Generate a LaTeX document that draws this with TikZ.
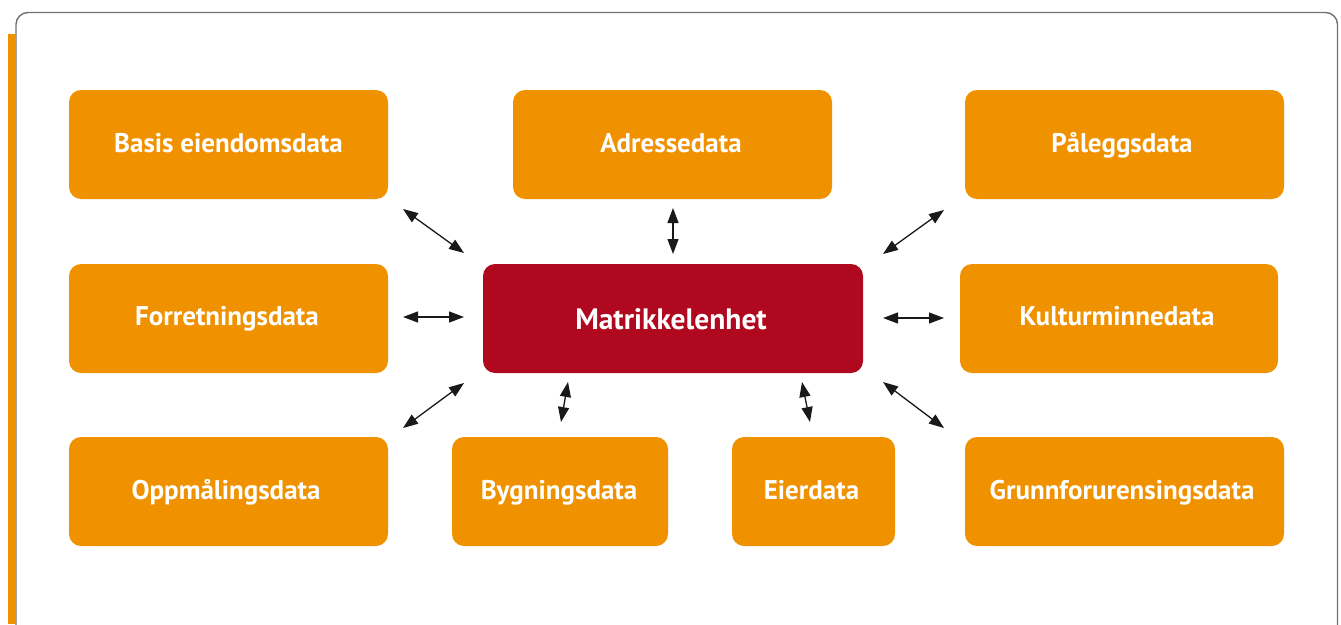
\documentclass[tikz,border=0pt]{standalone}
\usepackage{fontspec}
\setmainfont{PT Sans}
\usetikzlibrary{arrows.meta}
\definecolor{orng}{HTML}{F09100}
\definecolor{dred}{HTML}{B0081E}
\definecolor{frm}{HTML}{707070}
\begin{document}
\begin{tikzpicture}[x=1pt,y=-1pt,
  databox/.style={fill=orng,draw=none,rounded corners=12pt},
  mainbox/.style={fill=dred,draw=none,rounded corners=12pt},
  lbl/.style={anchor=base,text=white,font=\fontsize{27}{30}\selectfont\bfseries},
  mainlbl/.style={anchor=base,text=white,font=\fontsize{29.5}{32}\selectfont\bfseries},
  link/.style={line width=1.3pt,draw=black!90,{Triangle[length=15pt,width=11pt]}-{Triangle[length=15pt,width=11pt]}}]
\useasboundingbox (0,0) rectangle (1341,624);
\begin{scope}
\clip (0,0) rectangle (1341,624);
\draw[frm,line width=1.4pt,rounded corners=12pt] (16,680) -- (16,12.5) -- (1337.5,12.5) -- (1337.5,680);
\fill[orng] (8,34) rectangle (16,624);
\end{scope}
% boxes
\path[databox] (69,90) rectangle (388,199);
\node[lbl] (basis) at (228.5,152) {Basis eiendomsdata};
\path[databox] (513,90) rectangle (832,199);
\node[lbl] (adr) at (671,152) {Adressedata};
\path[databox] (965,90) rectangle (1284,199);
\node[lbl] (pal) at (1122,152) {Påleggsdata};
\path[databox] (69,264) rectangle (388,373);
\node[lbl] (forr) at (227,325) {Forretningsdata};
\path[mainbox] (483,264) rectangle (863,373);
\node[mainlbl] (matr) at (671,329) {Matrikkelenhet};
\path[databox] (960,264) rectangle (1278,373);
\node[lbl] (kult) at (1117,325) {Kulturminnedata};
\path[databox] (69,437) rectangle (388,546);
\node[lbl] (oppm) at (226,499) {Oppmålingsdata};
\path[databox] (452,437) rectangle (668,546);
\node[lbl] (bygn) at (559,499) {Bygningsdata};
\path[databox] (732,437) rectangle (895,546);
\node[lbl] (eier) at (811.5,499) {Eierdata};
\path[databox] (965,437) rectangle (1284,546);
\node[lbl] (grunn) at (1122,499) {Grunnforurensingsdata};
% arrow ends
\coordinate (a1) at (403,209); \coordinate (b1) at (464,253);
\coordinate (a2) at (673,208); \coordinate (b2) at (673,254);
\coordinate (a3) at (944,210); \coordinate (b3) at (883,254);
\coordinate (a4) at (403,317); \coordinate (b4) at (464,317);
\coordinate (a5) at (883,318); \coordinate (b5) at (944,318);
\coordinate (a6) at (403,428); \coordinate (b6) at (464,383);
\coordinate (a7) at (568,382); \coordinate (b7) at (561,422);
\coordinate (a8) at (802,382); \coordinate (b8) at (810,422);
\coordinate (a9) at (883,382); \coordinate (b9) at (944,428);
\foreach \i in {1,...,9} {\draw[link] (a\i) -- (b\i);}
\end{tikzpicture}
\end{document}
